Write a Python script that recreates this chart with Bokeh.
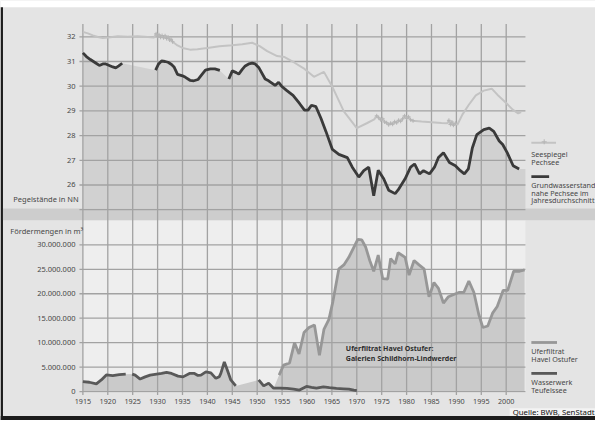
import numpy as np
from bokeh.plotting import figure
from bokeh.models import Range1d
from bokeh.core.properties import value
from bokeh.embed import file_html
from bokeh.resources import INLINE

NaN = float("nan")

# ---------------- data ----------------
# Seespiegel Pechsee (m NN)
see_years = [1915.0, 1916.0, 1917.0, 1918.0, 1919.0, 1920.5, 1922.0, 1924.0, 1926.0, 1928.0, 1929.3,
             1929.7, 1930.0, 1930.3, 1930.6, 1930.9, 1931.2, 1931.5, 1931.8, 1932.1, 1932.4, 1932.7, 1933.0,
             1934.0, 1935.0, 1936.5, 1938.0, 1940.0, 1942.4, 1945.0, 1947.0, 1949.0, 1950.5, 1952.0,
             1954.0, 1955.5, 1957.5, 1959.5, 1961.4, 1963.4, 1965.1, 1967.4, 1970.0, 1972.0, 1973.5,
             1974.0, 1974.4, 1974.8, 1975.2, 1975.6, 1976.0, 1976.4, 1976.8, 1977.2, 1977.6, 1978.0,
             1978.4, 1978.8, 1979.2, 1979.6, 1980.0, 1980.4, 1980.8, 1981.3,
             1983.0, 1985.0, 1987.0, 1988.2, 1988.5, 1988.8, 1989.1, 1989.4, 1989.8,
             1990.2, 1991.2, 1992.5, 1993.9, 1995.5, 1997.1, 1998.5, 2000.1, 2001.3, 2002.4, 2003.0]
see_levels = [32.20, 32.14, 32.06, 31.99, 31.95, 31.98, 32.02, 32.00, 32.02, 31.99, 31.97,
              32.12, 32.02, 32.08, 31.98, 32.05, 31.96, 32.04, 31.93, 31.99, 31.87, 31.90, 31.80,
              31.65, 31.55, 31.48, 31.50, 31.55, 31.62, 31.66, 31.70, 31.76, 31.62, 31.42,
              31.22, 31.18, 30.95, 30.70, 30.38, 30.58, 29.97, 28.98, 28.30, 28.50, 28.66,
              28.80, 28.72, 28.64, 28.68, 28.55, 28.52, 28.44, 28.50, 28.46, 28.56, 28.52,
              28.62, 28.58, 28.68, 28.80, 28.70, 28.76, 28.64, 28.60,
              28.57, 28.54, 28.51, 28.50, 28.62, 28.45, 28.55, 28.42, 28.50,
              28.44, 28.85, 29.25, 29.63, 29.82, 29.90, 29.60, 29.30, 29.05, 28.90, 28.95]
# periods with dense (monthly) readings of the lake level
see_dense_periods = [(1929.5, 1933.1), (1973.9, 1981.4), (1988.4, 1989.9)]

# Grundwasserstand nahe Pechsee im Jahresdurchschnitt (m NN), NaN = no data
gw_years = [1915.0, 1915.7, 1916.5, 1917.5, 1918.3, 1919.0, 1919.6, 1920.3, 1921.0, 1921.6, 1922.2, 1922.9,
            1926.0,
            1929.6, 1930.2, 1930.8, 1931.5, 1932.1, 1932.8, 1933.3, 1934.0, 1935.0, 1935.6, 1936.5, 1937.3,
            1938.1, 1938.8, 1939.6, 1940.6, 1941.5, 1942.5,
            1943.5,
            1944.3, 1945.0, 1945.8, 1946.3, 1947.0, 1947.6, 1948.3, 1949.0, 1949.6, 1950.3, 1951.6, 1952.3,
            1953.6, 1954.3, 1954.9, 1955.9, 1957.2, 1958.5, 1959.5, 1960.2, 1960.9, 1961.8, 1962.8, 1963.8,
            1965.1, 1966.4, 1968.1, 1969.1, 1970.4, 1971.4, 1972.4, 1973.4, 1974.3, 1975.4, 1976.4, 1977.7,
            1978.3, 1979.7, 1980.8, 1981.6, 1982.6, 1983.4, 1984.6, 1985.6, 1986.4, 1987.4, 1988.6, 1989.8,
            1990.8, 1991.6, 1992.4, 1993.2, 1994.1, 1995.5, 1996.6, 1997.5, 1998.6, 1999.3, 2000.2, 2001.4,
            2002.6]
gw_levels = [31.35, 31.20, 31.08, 30.95, 30.84, 30.90, 30.90, 30.84, 30.78, 30.74, 30.82, 30.93,
             NaN,
             30.65, 30.90, 31.02, 31.00, 30.97, 30.88, 30.78, 30.48, 30.42, 30.36, 30.24, 30.22,
             30.27, 30.45, 30.65, 30.70, 30.70, 30.64,
             NaN,
             30.29, 30.62, 30.55, 30.49, 30.68, 30.82, 30.90, 30.93, 30.90, 30.76, 30.29, 30.22,
             30.03, 30.16, 30.00, 29.83, 29.63, 29.30, 29.03, 29.03, 29.23, 29.17, 28.70, 28.17,
             27.44, 27.24, 27.11, 26.72, 26.32, 26.58, 26.72, 25.56, 26.60, 26.25, 25.79, 25.65,
             25.80, 26.25, 26.72, 26.85, 26.45, 26.58, 26.45, 26.72, 27.11, 27.31, 26.91, 26.78,
             26.58, 26.45, 26.65, 27.50, 28.04, 28.24, 28.30, 28.17, 27.78, 27.64, 27.31, 26.78,
             26.65]

# Uferfiltrat Havel Ostufer (Mio. m3)
ufer_years = [1954.4, 1955.3, 1956.5, 1957.5, 1958.4, 1959.4, 1960.4, 1961.5, 1962.5, 1963.4, 1964.4,
              1965.2, 1966.4, 1967.4, 1968.4, 1969.4, 1970.2, 1971.0, 1971.8, 1972.6, 1973.4, 1974.3,
              1975.2, 1976.2, 1976.8, 1977.7, 1978.3, 1979.7, 1980.5, 1981.5, 1982.5, 1983.5, 1984.5,
              1985.5, 1986.4, 1987.4, 1988.4, 1989.6, 1990.6, 1991.5, 1992.5, 1993.5, 1994.5, 1995.3,
              1996.3, 1997.3, 1998.2, 1999.4, 2000.3, 2001.5, 2002.7, 2003.7]
ufer_mio = [3.37, 5.4, 5.85, 10.0, 7.7, 12.07, 13.08, 13.6, 7.4, 12.7, 14.75,
            18.4, 25.1, 25.9, 27.45, 29.5, 31.1, 31.0, 29.5, 26.8, 24.6, 27.9,
            23.1, 23.0, 27.2, 26.1, 28.4, 27.45, 23.8, 26.8, 25.9, 25.1, 19.4,
            22.3, 21.1, 18.1, 19.4, 19.9, 20.3, 20.3, 22.6, 20.3, 15.75, 13.1,
            13.4, 16.1, 17.4, 20.7, 20.7, 24.6, 24.6, 24.9]

# Wasserwerk Teufelssee (Mio. m3), NaN = no data
teuf_years = [1915.0, 1916.3, 1917.7, 1918.7, 1919.7, 1921.0, 1922.3, 1923.6,
              1924.2,
              1924.9, 1925.5, 1926.5, 1927.5, 1928.5, 1929.8, 1930.8, 1931.8, 1932.8, 1934.1, 1935.1,
              1936.4, 1937.4, 1938.1, 1938.7, 1939.7, 1940.7, 1941.7, 1942.4, 1942.7, 1943.4, 1944.0,
              1944.7, 1945.7,
              1948.0,
              1950.3, 1951.3, 1952.3, 1953.3, 1954.6, 1956.0, 1957.3, 1958.5, 1959.9, 1960.9, 1961.9,
              1963.3, 1964.5, 1965.9, 1967.3, 1968.4, 1969.4, 1970.0]
teuf_mio = [2.05, 1.9, 1.57, 2.37, 3.4, 3.25, 3.45, 3.55,
            NaN,
            3.57, 3.35, 2.55, 3.0, 3.35, 3.55, 3.7, 3.9, 3.7, 3.15, 3.0,
            3.7, 3.7, 3.3, 3.37, 4.03, 3.83, 2.7, 3.05, 3.7, 6.06, 4.4,
            2.37, 1.16,
            NaN,
            2.37, 1.16, 1.7, 0.7, 0.7, 0.63, 0.5, 0.3, 1.04, 0.84, 0.7,
            0.97, 0.8, 0.63, 0.56, 0.5, 0.3, 0.2]

level_ticks = [26, 27, 28, 29, 30, 31, 32]
level_labels = ["26", "27", "28", "29", "30", "31", "32"]
vol_ticks = [0, 5, 10, 15, 20, 25, 30]
vol_labels = ["0", "5.000.000", "10.000.000", "15.000.000", "20.000.000", "25.000.000", "30.000.000"]
year_ticks = list(range(1915, 2001, 5))
year_labels = [str(y) for y in year_ticks]

# ---------------- layout (reference pixel coordinates, 603 x 428, mapped onto the canvas) ----------
W, H = 595, 420
RX0, RY0, RX1, RY1 = 0, 0, 603, 428
X1915, PX_PER_YEAR = 83.5, 5.047
FRAME_RIGHT = 532.0

def year_at(px):
    return 1915 + (px - X1915) / PX_PER_YEAR

def value_range(v_a, py_a, v_b, py_b):
    slope = (v_b - v_a) / (py_b - py_a)
    return Range1d(start=v_a + (RY1 - py_a) * slope, end=v_a + (RY0 - py_a) * slope)

p = figure(width=W, height=H, output_backend="svg", toolbar_location=None,
           x_range=Range1d(year_at(RX0), year_at(RX1)), y_range=Range1d(RY1, RY0),
           x_axis_location=None, y_axis_location=None, min_border=0)
p.extra_x_ranges = {"px": Range1d(RX0, RX1)}
p.extra_y_ranges = {"lvl": value_range(32, 37.0, 26, 188.0),
                    "vol": value_range(0, 398.5, 30, 249.0)}
p.outline_line_color = None
p.background_fill_color = "#e4e4e4"
p.border_fill_color = "#e4e4e4"
p.grid.visible = False

FONT = value("Noto Sans")
TXT = "#474747"
GRID = "#a2a2a2"
right_year = year_at(FRAME_RIGHT)

# white top strip and dark left / bottom border
p.quad(left=[RX0], right=[RX1], top=[RY0], bottom=[7], fill_color="#ffffff", line_color=None,
       x_range_name="px")
p.quad(left=[RX0], right=[2.5], top=[7], bottom=[RY1], fill_color="#1c1c1c", line_color=None,
       x_range_name="px")

# lower panel lighter plot area
p.quad(left=[1915], right=[right_year], top=[224], bottom=[400], fill_color="#eeeeee", line_color=None)

# fills
gy = np.array(gw_years); gl = np.array(gw_levels); m = ~np.isnan(gl)
fx = list(gy[m]) + [right_year]
fy = list(gl[m]) + [gl[m][-1]]
p.varea(x=fx, y1=25, y2=fy, fill_color="#d1d1d1", y_range_name="lvl")

ty = np.array(teuf_years); tv = np.array(teuf_mio); mt = (~np.isnan(tv)) & (ty < ufer_years[0])
bx = list(ty[mt]) + list(ufer_years)
by = list(tv[mt]) + list(ufer_mio)
p.varea(x=bx, y1=0, y2=by, fill_color="#cacaca", y_range_name="vol")

# separator band
p.quad(left=[2.5], right=[RX1], top=[212], bottom=[224], fill_color="#cdcdcd", line_color=None,
       x_range_name="px")

# grid lines
p.segment(x0=year_ticks, x1=year_ticks, y0=24, y1=402, line_color=GRID, line_width=1.3)
lv_grid = [25] + level_ticks
p.segment(x0=year_at(80), x1=right_year, y0=lv_grid, y1=lv_grid, line_color=GRID, line_width=1.3,
          y_range_name="lvl")
p.segment(x0=year_at(80), x1=right_year, y0=vol_ticks, y1=vol_ticks, line_color=GRID, line_width=1.3,
          y_range_name="vol")

# series lines
p.line(see_years, see_levels, line_color="#c3c3c3", line_width=2, y_range_name="lvl")
sy = np.array(see_years); sl = np.array(see_levels)
md = np.zeros(len(sy), dtype=bool)
for a, b in see_dense_periods:
    md |= (sy >= a) & (sy <= b)
p.scatter(sy[md], sl[md], marker="cross", size=4, line_color="#b5b5b5", line_width=1, y_range_name="lvl")
p.line(gw_years, gw_levels, line_color="#3a3a3a", line_width=2.8, y_range_name="lvl")
p.line(ufer_years, ufer_mio, line_color="#979797", line_width=2.8, y_range_name="vol")
p.line(teuf_years, teuf_mio, line_color="#595959", line_width=2.8, y_range_name="vol")

# tick labels
p.text(x=76, y=level_ticks, text=level_labels, text_font=FONT, text_font_size="7.5px", text_color=TXT,
       text_align="right", text_baseline="middle", x_range_name="px", y_range_name="lvl")
p.text(x=76, y=vol_ticks, text=vol_labels, text_font=FONT, text_font_size="7.5px", text_color=TXT,
       text_align="right", text_baseline="middle", x_range_name="px", y_range_name="vol")
p.text(x=year_ticks, y=409, text=year_labels, text_font=FONT, text_font_size="7.2px", text_color=TXT,
       text_align="center", text_baseline="middle")

# axis titles
p.text(x=[13], y=[202], text=["Pegelstände in NN"], text_font=FONT, text_font_size="7.5px",
       text_color=TXT, text_baseline="middle", x_range_name="px")
p.text(x=[10], y=[235], text=["Fördermengen in m³"], text_font=FONT, text_font_size="7.5px",
       text_color=TXT, text_baseline="middle", x_range_name="px")

# legends (right side)
p.line(x=[538, 563], y=[145, 145], line_color="#c3c3c3", line_width=2, x_range_name="px")
p.scatter(x=[551], y=[144], marker="cross", size=5, line_color="#b5b5b5", x_range_name="px")
p.line(x=[538, 556], y=[179.5, 179.5], line_color="#3a3a3a", line_width=2.8, x_range_name="px")
p.line(x=[538, 564], y=[348.5, 348.5], line_color="#979797", line_width=2.8, x_range_name="px")
p.line(x=[538, 564], y=[380, 380], line_color="#595959", line_width=2.8, x_range_name="px")
leg_txt = ["Seespiegel", "Pechsee", "Grundwasserstand", "nahe Pechsee im", "Jahresdurchschnitt",
           "Uferfiltrat", "Havel Ostufer", "Wasserwerk", "Teufelssee"]
leg_y = [156.5, 164.5, 188.3, 195.7, 203.0, 356.7, 365.0, 388.3, 396.7]
p.text(x=538, y=leg_y, text=leg_txt, text_font=FONT, text_font_size="7.2px", text_color=TXT,
       text_baseline="middle", x_range_name="px")

# annotation
p.text(x=350, y=[355, 365], text=["Uferfiltrat Havel Ostufer:", "Galerien Schildhorn-Lindwerder"],
       text_font=FONT, text_font_size="7px", text_font_style="bold", text_color="#2e2e2e",
       text_baseline="middle", x_range_name="px")

# bottom border and source
p.quad(left=[RX0], right=[RX1], top=[423.5], bottom=[RY1], fill_color="#1c1c1c", line_color=None,
       x_range_name="px")
p.quad(left=[516], right=[RX1], top=[415.5], bottom=[423.5], fill_color="#f3f3f3", line_color=None,
       x_range_name="px")
p.text(x=[602], y=[419.5], text=["Quelle: BWB, SenStadt"], text_font=FONT, text_font_size="7.8px",
       text_color="#111111", text_align="right", text_baseline="middle", x_range_name="px")

open("out.html", "w").write(file_html(p, INLINE))
